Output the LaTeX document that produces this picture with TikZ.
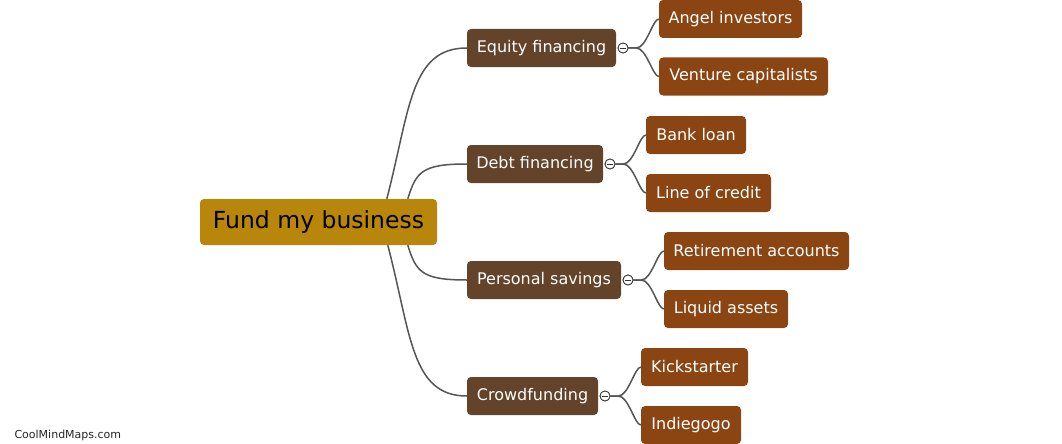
\documentclass[tikz,border=0pt]{standalone}
\usepackage{fontspec}
\setmainfont{DejaVu Sans}
\definecolor{rootc}{HTML}{B8860B}
\definecolor{branchc}{HTML}{634329}
\definecolor{leafc}{HTML}{8B4513}
\definecolor{linec}{HTML}{555555}
\begin{document}
\begin{tikzpicture}[x=1pt,y=-1pt,
  rootbox/.style={fill=rootc, rounded corners=4pt, minimum height=46pt, inner sep=0pt, font=\fontsize{23.5}{26}\selectfont, text=black},
  branchbox/.style={fill=branchc, rounded corners=4pt, minimum height=38pt, inner sep=0pt, font=\fontsize{16}{19}\selectfont, text=white},
  leafbox/.style={fill=leafc, rounded corners=4pt, minimum height=38pt, inner sep=0pt, font=\fontsize{16}{19}\selectfont, text=white},
  conn/.style={draw=linec, line width=1.5pt},
  toggle/.style={circle, draw=black!80, fill=white, line width=0.8pt, minimum size=10pt, inner sep=0pt}
]
\useasboundingbox (0,0) rectangle (1062,444);

\node[rootbox, minimum width=237pt] (root) at (318.5,222) {Fund my business};

\node[branchbox, minimum width=149pt] (eq) at (541.5,48) {Equity financing};
\node[branchbox, minimum width=136pt] (debt) at (535,164) {Debt financing};
\node[branchbox, minimum width=154pt] (pers) at (544,280) {Personal savings};
\node[branchbox, minimum width=131pt] (crowd) at (532.5,396) {Crowdfunding};

\node[leafbox, minimum width=143pt] (angel) at (730.5,19) {Angel investors};
\node[leafbox, minimum width=169pt] (vc) at (743.5,76.5) {Venture capitalists};
\node[leafbox, minimum width=100pt] (bank) at (696,135) {Bank loan};
\node[leafbox, minimum width=125pt] (loc) at (708.5,193) {Line of credit};
\node[leafbox, minimum width=185pt] (ret) at (756.5,251) {Retirement accounts};
\node[leafbox, minimum width=124pt] (liq) at (726,309) {Liquid assets};
\node[leafbox, minimum width=107pt] (kick) at (694.5,367) {Kickstarter};
\node[leafbox, minimum width=100pt] (indie) at (691,425) {Indiegogo};

% root to branches
\draw[conn] ([xshift=187pt]root.north west) .. controls (410,110) and (410,48) .. (eq.west);
\draw[conn] ([xshift=208pt]root.north west) .. controls (416,172) and (422,164) .. (debt.west);
\draw[conn] ([xshift=208pt]root.south west) .. controls (416,272) and (422,280) .. (pers.west);
\draw[conn] ([xshift=188pt]root.south west) .. controls (411,334) and (411,396) .. (crowd.west);

% toggles
\node[toggle] (teq) at (623,48) {};
\node[toggle] (tdebt) at (610,164) {};
\node[toggle] (tpers) at (628,280) {};
\node[toggle] (tcrowd) at (605,396) {};

% leaf connectors
\draw[conn] (teq.east) -- ++(8,0) .. controls +(10,0) and +(-6,0) .. (angel.west);
\draw[conn] (teq.east) -- ++(8,0) .. controls +(10,0) and +(-6,0) .. (vc.west);
\draw[conn] (tdebt.east) -- ++(8,0) .. controls +(10,0) and +(-6,0) .. (bank.west);
\draw[conn] (tdebt.east) -- ++(8,0) .. controls +(10,0) and +(-6,0) .. (loc.west);
\draw[conn] (tpers.east) -- ++(8,0) .. controls +(10,0) and +(-6,0) .. (ret.west);
\draw[conn] (tpers.east) -- ++(8,0) .. controls +(10,0) and +(-6,0) .. (liq.west);
\draw[conn] (tcrowd.east) -- ++(8,0) .. controls +(10,0) and +(-6,0) .. (kick.west);
\draw[conn] (tcrowd.east) -- ++(8,0) .. controls +(10,0) and +(-6,0) .. (indie.west);

% toggles on top
\foreach \t in {teq,tdebt,tpers,tcrowd}{
  \node[toggle] at (\t) {};
  \draw[black!80, line width=0.9pt] ([xshift=-3pt]\t.center) -- ([xshift=3pt]\t.center);
}

\node[anchor=west, font=\fontsize{11}{13}\selectfont, text=black!85] (wm) at (11,435) {CoolMindMaps.com};
\end{tikzpicture}
\end{document}
